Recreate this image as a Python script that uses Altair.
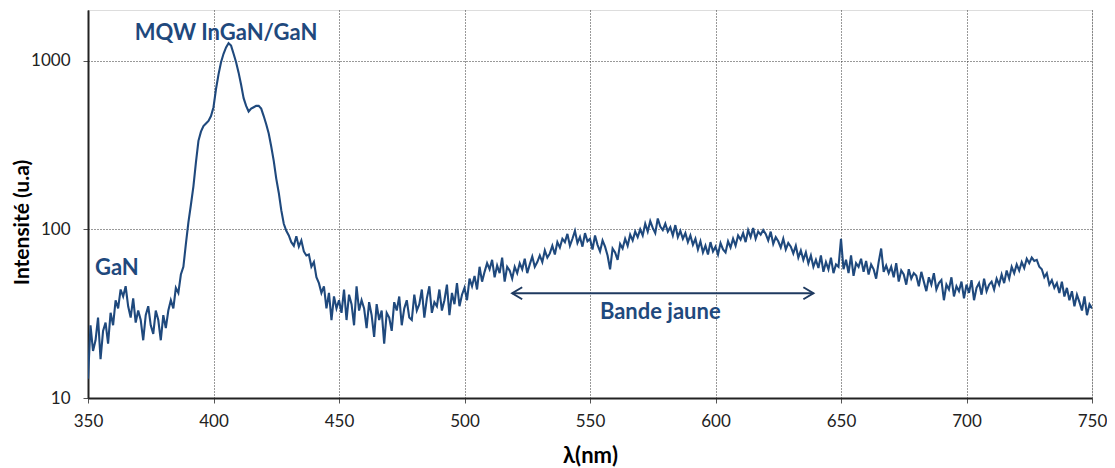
import altair as alt
import pandas as pd

# Wavelength grid (nm), 1 nm sampling
wavelength_start = 350
wavelength_end = 750

# Intensity (u.a), per nm
intensity_350_449 = [
    13, 27, 19, 22, 30, 17, 25, 28, 21, 32,
    27, 38, 34, 44, 40, 46, 35, 30, 39, 28,
    33, 29, 22, 31, 35, 27, 24, 33, 29, 22,
    31, 26, 33, 38, 34, 45, 42, 54, 60, 82,
    110, 140, 180, 250, 335, 380, 410, 425, 440, 470,
    530, 680, 830, 980, 1100, 1200, 1270, 1230, 1100, 980,
    850, 720, 600, 540, 500, 520, 530, 540, 540, 520,
    470, 420, 370, 310, 255, 200, 165, 130, 108, 98,
    92, 84, 80, 91, 79, 86, 74, 70, 71, 60,
    64, 52, 48, 42, 46, 34, 42, 29, 40, 34,
]
intensity_450_549 = [
    38, 32, 44, 29, 41, 36, 27, 46, 33, 38,
    34, 26, 37, 31, 23, 36, 29, 33, 21, 32,
    30, 25, 37, 33, 40, 27, 34, 38, 30, 29,
    41, 33, 36, 44, 30, 39, 46, 32, 37, 35,
    44, 33, 38, 47, 31, 42, 36, 48, 35, 41,
    45, 38, 51, 46, 53, 44, 60, 49, 56, 63,
    58, 66, 52, 61, 55, 68, 49, 60, 57, 51,
    60, 55, 63, 58, 67, 55, 62, 69, 60, 64,
    70, 64, 75, 68, 72, 80, 71, 84, 78, 88,
    84, 94, 80, 88, 98, 83, 90, 79, 95, 85,
]
intensity_550_649 = [
    88, 76, 92, 81, 74, 86, 79, 70, 58, 77,
    73, 66, 82, 77, 88, 80, 93, 86, 97, 90,
    100, 92, 108, 97, 112, 102, 95, 116, 104, 99,
    108, 97, 103, 92, 106, 90, 98, 88, 95, 84,
    92, 81, 88, 76, 85, 73, 80, 71, 84, 74,
    79, 71, 83, 76, 73, 85, 78, 88, 80, 92,
    87, 95, 84, 99, 90, 102, 88, 97, 93, 99,
    94, 86, 97, 82, 90, 85, 78, 88, 76, 83,
    79, 72, 80, 68, 75, 66, 73, 63, 70, 60,
    66, 59, 70, 56, 64, 58, 68, 55, 62, 60,
]
intensity_650_750 = [
    88, 58, 66, 55, 70, 53, 63, 60, 67, 56,
    65, 54, 62, 58, 51, 64, 77, 56, 61, 55,
    60, 52, 63, 49, 57, 54, 47, 58, 51, 55,
    53, 46, 56, 49, 43, 52, 47, 55, 44, 48,
    50, 38, 47, 44, 52, 40, 46, 43, 49, 39,
    47, 42, 50, 38, 45, 48, 41, 51, 43, 47,
    49, 44, 51, 47, 54, 48, 57, 51, 60, 55,
    62, 57, 64, 59, 67, 63, 68, 65, 66, 60,
    58, 52, 55, 47, 50, 45, 48, 42, 49, 40,
    45, 38, 43, 35, 41, 37, 33, 40, 31, 36,
    34,
]

# Annotations
label_texts = ["MQW InGaN/GaN", "GaN", "Bande jaune"]
label_x = [405, 361.5, 578]
label_y = [1466, 58.8, 32.3]

# Arrow "Bande jaune"
arrow_x = [519, 639]
arrow_y = [41.8, 41.8]

x_ticks = [350, 400, 450, 500, 550, 600, 650, 700, 750]
y_ticks = [10, 100, 1000]

intensity = intensity_350_449 + intensity_450_549 + intensity_550_649 + intensity_650_750
wavelengths = list(range(wavelength_start, wavelength_end + 1))
df = pd.DataFrame({"wl": wavelengths, "I": intensity})
labels_df = pd.DataFrame({"t": label_texts, "x": label_x, "y": label_y})
arrow_df = pd.DataFrame({"x": arrow_x[:1], "x2": arrow_x[1:], "y": arrow_y[:1]})
heads_df = pd.DataFrame({"x": arrow_x, "y": arrow_y, "side": ["left", "right"]})

FONT = "Lato"
NAVY = "#1F497D"

xscale = alt.Scale(domain=[350, 750], nice=False, zero=False)
yscale = alt.Scale(type="log", domain=[10, 2000], nice=False)

xaxis = alt.Axis(
    values=x_ticks, title="λ(nm)", grid=True, gridDash=[1, 2], gridColor="#333",
    gridWidth=1, domainColor="#222", domainWidth=2, tickColor="#555", tickSize=5,
    labelFontSize=17, labelColor="#222", labelFont=FONT, labelPadding=10, labelFlush=False,
    titleFont=FONT, titleFontSize=22, titleFontWeight="bold", titleColor="#000",
    titleX=502, titleY=57, titleBaseline="middle", titleAlign="center",
)
yaxis = alt.Axis(
    values=y_ticks, title="Intensité (u.a)", grid=True, gridDash=[1, 2], gridColor="#333",
    gridWidth=1, domainColor="#222", domainWidth=2, tickColor="#555", tickSize=5,
    labelFontSize=17, labelColor="#222", labelFont=FONT, labelPadding=13, format="d",
    labelFlush=False,
    titleFont=FONT, titleFontSize=21, titleFontWeight="bold", titleColor="#000",
    titleAngle=-90, titleX=-66, titleY=212, titleBaseline="middle", titleAlign="center",
)

line = alt.Chart(df).mark_line(color=NAVY, strokeWidth=2.1, clip=True).encode(
    x=alt.X("wl:Q", scale=xscale, axis=xaxis),
    y=alt.Y("I:Q", scale=yscale, axis=yaxis),
)

texts = alt.Chart(labels_df).mark_text(
    font=FONT, fontSize=22, fontWeight="bold", color=NAVY, align="center", baseline="middle"
).encode(x=alt.X("x:Q", scale=xscale), y=alt.Y("y:Q", scale=yscale), text="t:N")

arrow = alt.Chart(arrow_df).mark_rule(color="#1F3A60", strokeWidth=2).encode(
    x=alt.X("x:Q", scale=xscale), x2="x2:Q", y=alt.Y("y:Q", scale=yscale)
)
head_left = alt.Chart(heads_df[heads_df.side == "left"]).mark_point(
    shape="M1,-0.6L0,0L1,0.6", filled=False, size=400, stroke="#1F3A60", strokeWidth=2, opacity=1
).encode(x=alt.X("x:Q", scale=xscale), y=alt.Y("y:Q", scale=yscale))
head_right = alt.Chart(heads_df[heads_df.side == "right"]).mark_point(
    shape="M-1,-0.6L0,0L-1,0.6", filled=False, size=400, stroke="#1F3A60", strokeWidth=2, opacity=1
).encode(x=alt.X("x:Q", scale=xscale), y=alt.Y("y:Q", scale=yscale))

chart = alt.layer(line, arrow, head_left, head_right, texts).properties(
    width=1004, height=388,
    autosize=alt.AutoSizeParams(type="none"),
    padding={"left": 80, "top": 2, "right": 15, "bottom": 70},
).configure_view(stroke="#111", strokeWidth=1.5).configure(background="white")

chart.save("out.html", embed_options={"renderer": "svg", "actions": False})
